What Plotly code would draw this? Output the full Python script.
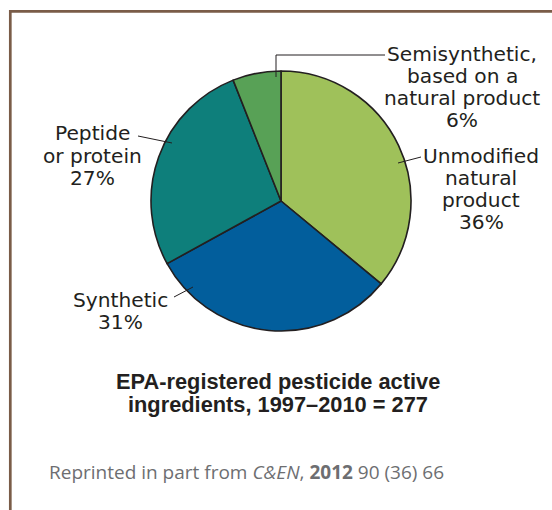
import plotly.graph_objects as go

# ---- data ----
categories = ["Unmodified natural product", "Synthetic", "Peptide or protein",
              "Semisynthetic, based on a natural product"]
values = [36, 31, 27, 6]
label_lines = [["Unmodified", "natural", "product"],
               ["Synthetic"],
               ["Peptide", "or protein"],
               ["Semisynthetic,", "based on a", "natural product"]]
colors = ["#9fc15a", "#025e9c", "#0e7f7b", "#58a156"]
title_lines = ["EPA-registered pesticide active", "ingredients, 1997\u20132010 = 277"]
source_text = "Reprinted in part from <i>C&amp;EN</i>, <b>2012</b> 90 (36) 66"

W, H = 552, 510
def px(x):
    return x / W
def py(y):
    return 1 - y / H

TEXT = "#231f20"
LABEL_FONT = "DejaVu Sans, sans-serif"
TITLE_FONT = "Liberation Sans, Arial, sans-serif"

# pie geometry (pixels)
cx, cy, r = 281, 201, 130

fig = go.Figure(go.Pie(
    labels=categories, values=values, sort=False, direction="clockwise",
    rotation=0, marker=dict(colors=colors, line=dict(color=TEXT, width=1.6)),
    textinfo="none", hoverinfo="label+percent", showlegend=False,
    domain=dict(x=[px(cx - r), px(cx + r)], y=[py(cy + r), py(cy - r)]),
))

annotations = []
# label placement: (center x, first line mid y) in pixels
label_pos = [(481, 155.5), (120.5, 299.5), (92, 133.5), (462, 54)]
line_step = 22.1
for lines, val, (lx, ly) in zip(label_lines, values, label_pos):
    all_lines = lines + [f"{val}%"]
    for i, t in enumerate(all_lines):
        annotations.append(dict(
            x=px(lx), y=py(ly + i * line_step), xref="paper", yref="paper",
            text=t, showarrow=False, xanchor="center", yanchor="middle",
            font=dict(family=LABEL_FONT, size=20.2, color=TEXT)))

# title
for i, t in enumerate(title_lines):
    annotations.append(dict(
        x=px(278), y=py(381.5 + i * 22.7), xref="paper", yref="paper",
        text=f"<b>{t}</b>", showarrow=False, xanchor="center", yanchor="middle",
        font=dict(family=TITLE_FONT, size=21.8, color=TEXT)))

# source
annotations.append(dict(
    x=px(47), y=py(472), xref="paper", yref="paper", text=source_text,
    showarrow=False, xanchor="left", yanchor="middle",
    font=dict(family="Open Sans, sans-serif", size=19, color="#6d6e71")))

shapes = []
# leader lines
leaders = [
    [(398, 163), (421, 157)],
    [(174, 297), (193, 287)],
    [(138, 136), (172, 143)],
    [(276, 77), (276, 55), (385, 55)],
]
for pts in leaders:
    path = "M " + " L ".join(f"{px(x)},{py(y)}" for x, y in pts)
    shapes.append(dict(type="path", xref="paper", yref="paper", path=path,
                       line=dict(color=TEXT, width=1)))

# frame
BROWN = "#7a5c48"
shapes.append(dict(type="path", xref="paper", yref="paper",
                   path=f"M {px(10.3)},{py(H + 5)} L {px(10.3)},{py(11.3)} L {px(W + 5)},{py(11.3)}",
                   line=dict(color=BROWN, width=2.7)))

fig.update_layout(
    width=W, height=H, margin=dict(l=0, r=0, t=0, b=0),
    paper_bgcolor="white", plot_bgcolor="white",
    annotations=annotations, shapes=shapes,
)
fig.write_html("out.html")
